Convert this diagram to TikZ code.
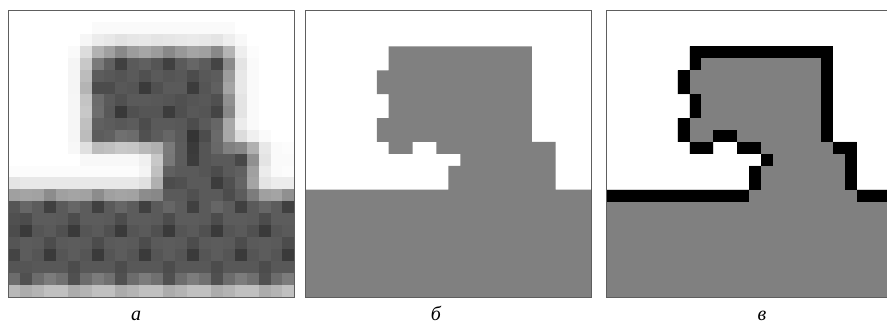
\documentclass[tikz,border=0pt]{standalone}
\usepackage{fontspec}
\setmainfont{Liberation Serif}
\definecolor{framecol}{HTML}{5E5E5E}
\definecolor{objgray}{HTML}{808080}
\tikzset{
  panelframe/.style={draw=framecol, line width=1pt},
  lbl/.style={anchor=base, inner sep=0pt, text depth=0pt, font=\fontsize{20}{20}\selectfont\itshape},
  objfill/.style={fill=objgray},
  edgefill/.style={fill=black}
}
\begin{document}
\begin{tikzpicture}[x=1pt,y=-1pt]
\fill[white] (0,0) rectangle (887,325);
\useasboundingbox (0,0) rectangle (887,325);
% ---------------- panel a (grayscale) ----------------
\begin{scope}[shift={(8.3,10.7)}, x=11.93pt, y=-11.93pt]
\foreach \vv [count=\k from 0] in {%
255,255,255,255,255,255,255,255,255,255,255,255,255,255,255,255,255,255,255,255,255,255,255,255,%
255,255,255,255,255,255,255,250,250,250,250,250,250,250,250,250,250,250,250,255,255,255,255,255,%
255,255,255,255,255,255,246,236,232,226,230,232,228,230,232,234,232,228,238,248,255,255,255,255,%
255,255,255,255,255,250,220,178,160,136,156,166,156,136,152,164,160,136,180,238,252,255,255,255,%
255,255,255,255,255,245,200,122,96,64,90,96,85,64,90,102,92,68,138,228,250,255,255,255,%
255,255,255,255,255,245,188,92,88,84,90,80,90,85,88,76,88,92,156,232,250,255,255,255,%
255,255,255,255,255,245,180,76,76,88,85,58,80,90,90,60,85,96,164,232,250,255,255,255,%
255,255,255,255,255,246,196,108,90,80,90,90,88,85,80,85,88,80,144,228,250,255,255,255,%
255,255,255,255,255,246,200,110,88,56,80,85,85,60,79,88,85,68,136,228,250,255,255,255,%
255,255,255,255,255,246,192,96,92,88,92,76,90,90,88,76,90,102,168,236,250,255,255,255,%
255,255,255,255,255,246,188,92,96,112,108,80,92,102,90,52,76,106,168,220,240,250,255,255,%
255,255,255,255,255,248,224,188,192,200,198,184,176,122,92,58,85,104,128,136,176,232,250,252,%
255,255,255,255,255,255,248,248,248,248,248,240,200,120,92,60,85,90,90,72,144,228,250,250,%
252,252,252,252,252,252,252,252,252,252,252,244,192,96,90,90,85,76,90,96,160,236,250,252,%
228,232,232,232,232,232,232,232,232,232,232,224,176,76,80,90,90,60,80,100,164,228,236,236,%
160,164,162,140,160,164,162,140,160,164,162,140,136,90,90,80,90,90,76,92,124,160,164,144,%
85,102,92,64,90,102,92,64,90,102,92,64,90,102,92,64,90,102,92,64,90,102,92,64,%
80,76,92,92,90,76,92,92,90,76,92,92,90,76,92,92,90,76,92,92,90,76,92,92,%
76,58,85,90,80,58,85,90,80,58,85,90,80,58,85,90,80,58,85,90,80,58,85,90,%
85,92,90,76,90,92,90,76,90,92,90,76,90,92,90,76,90,92,90,76,90,92,90,76,%
68,92,85,58,85,92,85,58,85,92,85,58,85,92,85,58,85,92,85,58,85,92,85,58,%
85,85,88,88,88,76,88,88,88,76,88,88,88,76,88,88,88,76,88,88,88,76,88,88,%
108,80,108,124,112,80,108,124,112,80,108,124,112,80,108,124,112,80,108,124,112,80,108,124,%
184,172,180,192,192,172,180,192,192,172,180,192,192,172,180,192,192,172,180,192,192,172,180,192%
}{%
  \pgfmathtruncatemacro{\rr}{div(\k,24)}%
  \pgfmathtruncatemacro{\cc}{mod(\k,24)}%
  \definecolor{cellc}{RGB}{\vv,\vv,\vv}%
  \fill[cellc] (\cc-0.02,\rr-0.02) rectangle (\cc+1.02,\rr+1.02);%
}
\draw[panelframe] (0,0) rectangle (24,24);
\end{scope}
% ---------------- panel b (binary) ----------------
\begin{scope}[shift={(305.2,10.7)}, x=11.93pt, y=-11.93pt]
\fill[objfill] (7,3) -- (19,3) -- (19,11) -- (21,11) -- (21,15) -- (24,15) -- (24,24)
  -- (0,24) -- (0,15) -- (12,15) -- (12,13) -- (13,13) -- (13,12) -- (11,12) -- (11,11)
  -- (9,11) -- (9,12) -- (7,12) -- (7,11) -- (6,11) -- (6,9) -- (7,9) -- (7,7) -- (6,7)
  -- (6,5) -- (7,5) -- cycle;
\draw[panelframe] (0,0) rectangle (24,24);
\end{scope}
% ---------------- panel v (binary with boundary) ----------------
\begin{scope}[shift={(606,10.7)}, x=11.93pt, y=-11.93pt]
\fill[objfill] (7,3) -- (19,3) -- (19,11) -- (21,11) -- (21,15) -- (24,15) -- (24,24)
  -- (0,24) -- (0,15) -- (12,15) -- (12,13) -- (13,13) -- (13,12) -- (11,12) -- (11,11)
  -- (9,11) -- (9,12) -- (7,12) -- (7,11) -- (6,11) -- (6,9) -- (7,9) -- (7,7) -- (6,7)
  -- (6,5) -- (7,5) -- cycle;
\foreach \xa/\ya/\xb/\yb in {7/3/19/4, 7/4/8/5, 18/4/19/11, 6/5/7/7, 7/7/8/9, 6/9/7/11,
  9/10/11/11, 7/11/9/12, 11/11/13/12, 19/11/21/12, 13/12/14/13, 20/12/21/15,
  12/13/13/15, 0/15/12/16, 21/15/24/16}{
  \fill[edgefill] (\xa,\ya) rectangle (\xb,\yb);
}
\draw[panelframe] (0,0) rectangle (24,24);
\end{scope}
% ---------------- labels ----------------
\node[lbl] (la) at (136,320) {а};
\node[lbl] (lb) at (436,320) {б};
\node[lbl] (lv) at (762,320) {в};
\end{tikzpicture}
\end{document}
